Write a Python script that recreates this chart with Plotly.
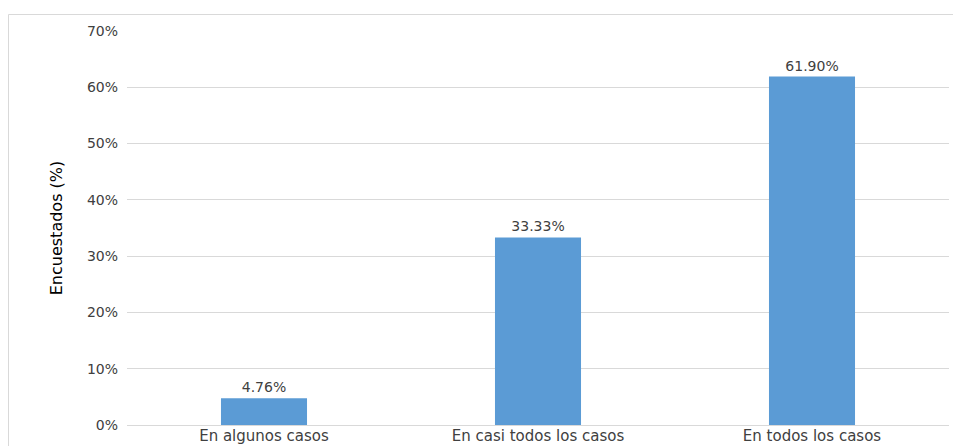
import plotly.graph_objects as go

categories = ["En algunos casos", "En casi todos los casos", "En todos los casos"]
values = [4.76, 33.33, 61.90]
value_labels = ["4.76%", "33.33%", "61.90%"]
tick_vals = [0, 10, 20, 30, 40, 50, 60, 70]
tick_text = ["0%", "10%", "20%", "30%", "40%", "50%", "60%", "70%"]

W, H = 953, 446
L, R, T, B = 127, 4, 31, 21
pw, ph = W - L - R, H - T - B

def px_x(px):
    return (px - L) / pw

def px_y(py):
    return (H - B - py) / ph

font_family = "DejaVu Sans, Open Sans, sans-serif"
text_color = "#404040"
fs = 14

fig = go.Figure(
    go.Bar(
        x=categories,
        y=values,
        text=value_labels,
        textposition="outside",
        textfont=dict(size=fs, color=text_color, family=font_family),
        marker=dict(color="#5B9BD5", line=dict(width=0)),
        cliponaxis=False,
        hoverinfo="skip",
    )
)

fig.update_layout(
    width=W,
    height=H,
    margin=dict(l=L, r=R, t=T, b=B, autoexpand=False),
    paper_bgcolor="white",
    plot_bgcolor="white",
    bargap=0.686,
    showlegend=False,
    font=dict(family=font_family, size=fs, color=text_color),
    shapes=[
        dict(
            type="rect",
            xref="paper",
            yref="paper",
            x0=px_x(8.5),
            x1=px_x(965),
            y0=px_y(460),
            y1=px_y(14.5),
            line=dict(color="#D9D9D9", width=1),
            fillcolor="rgba(0,0,0,0)",
            layer="below",
        )
    ],
)

fig.update_xaxes(
    showgrid=False,
    showline=False,
    ticks="",
    automargin=False,
    tickfont=dict(size=15, color=text_color, family=font_family),
)

fig.update_yaxes(
    range=[0, 70],
    tickvals=tick_vals,
    ticktext=tick_text,
    showgrid=True,
    gridcolor="#D9D9D9",
    gridwidth=1,
    zeroline=True,
    zerolinecolor="#D9D9D9",
    zerolinewidth=1,
    showline=False,
    ticks="",
    automargin=False,
    ticklabelstandoff=8,
    tickfont=dict(size=fs, color=text_color, family=font_family),
    title=dict(
        text="Encuestados (%)",
        font=dict(size=16, color="#000000", family=font_family),
        standoff=20,
    ),
)

fig.write_html(
    "out.html",
    config={"displayModeBar": False},
    post_script="document.body.style.margin='0';document.body.style.overflow='hidden';",
)
